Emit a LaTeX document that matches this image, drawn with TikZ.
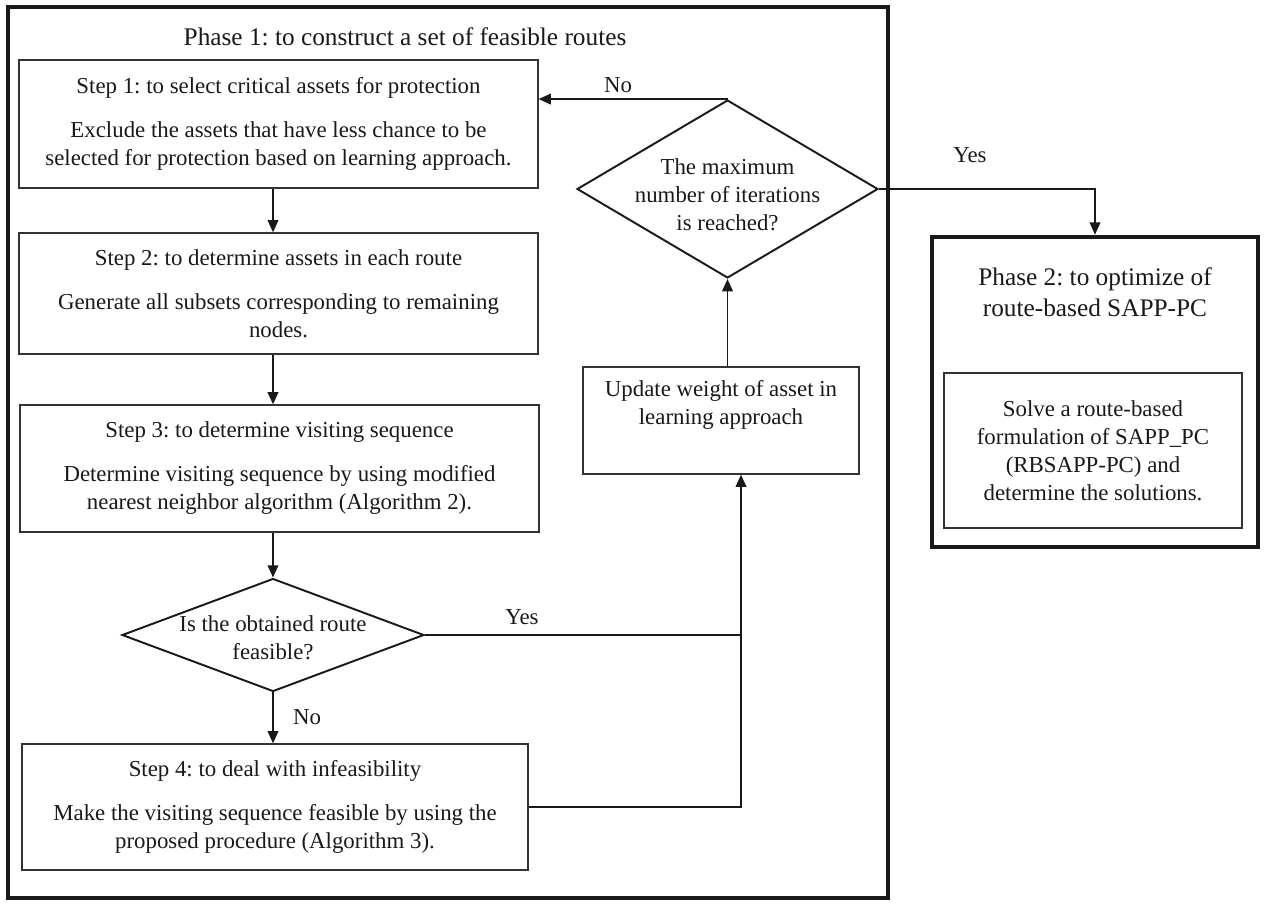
\documentclass[tikz,border=0pt]{standalone}
\usepackage{fontspec}
\setmainfont{Liberation Serif}
\usepackage{tikz}
\usetikzlibrary{shapes.geometric, arrows.meta, positioning}
\frenchspacing

\begin{document}
\begin{tikzpicture}[
  x=0.02cm, y=-0.02cm,
  every node/.style={font=\fontsize{13}{16}\selectfont, text=black!90},
  stepbox/.style={rectangle, draw=black!80, line width=0.7pt, fill=white,
    minimum width=#1, align=center, inner sep=0pt},
  bigbox/.style={rectangle, draw=black!90, line width=2.6pt, inner sep=0pt},
  decision/.style={diamond, draw=black!90, line width=1.1pt, inner sep=0pt},
  phasetitle/.style={align=center, font=\fontsize{14.4}{17.5}\selectfont},
  lbl/.style={inner sep=1pt},
  line/.style={draw=black!90, line width=1.1pt},
  arr/.style={line, -{Triangle[length=7pt, width=6pt]}}
]
\useasboundingbox (0,0) rectangle (1264,904);

% ===== PHASE 1: FEASIBLE ROUTES =====
\node[bigbox, minimum width=17.6cm, minimum height=17.82cm] (ph1) at (448,452.5) {};
\node[phasetitle] (ph1t) at (405,37) {Phase 1: to construct a set of feasible routes};

\node[stepbox=10.38cm, minimum height=2.56cm] (s1) at (278.5,124)
  {Step 1: to select critical assets for protection\\[9pt]
   Exclude the assets that have less chance to be\\
   selected for protection based on learning approach.};
\node[stepbox=10.38cm, minimum height=2.42cm] (s2) at (278.5,293.5)
  {Step 2: to determine assets in each route\\[9pt]
   Generate all subsets corresponding to remaining\\
   nodes.};
\node[stepbox=10.38cm, minimum height=2.54cm] (s3) at (279.5,468.5)
  {Step 3: to determine visiting sequence\\[9pt]
   Determine visiting sequence by using modified\\
   nearest neighbor algorithm (Algorithm 2).};

\node[decision, minimum width=6.04cm, minimum height=2.26cm] (feas) at (273,635) {};
\node[align=center] (feast) at (273,638) {Is the obtained route\\feasible?};

\node[stepbox=10.12cm, minimum height=2.52cm] (s4) at (275,807)
  {Step 4: to deal with infeasibility\\[9pt]
   Make the visiting sequence feasible by using the\\
   proposed procedure (Algorithm 3).};

% ===== LEARNING LOOP =====
\node[stepbox=5.52cm, minimum height=2.14cm] (upd) at (721,420.5)
  {Update weight of asset in\\learning approach\\\strut};
\node[decision, minimum width=6.02cm, minimum height=3.56cm] (chk) at (727.5,189) {};
\node[align=center] (chkt) at (727.5,195) {The maximum\\number of iterations\\is reached?};
\coordinate (mj) at (741,635);

% ===== PHASE 2: OPTIMIZATION =====
\node[bigbox, minimum width=6.52cm, minimum height=6.2cm] (ph2) at (1095,392) {};
\node[phasetitle] (ph2t) at (1095,292) {Phase 2: to optimize of\\route-based SAPP-PC};
\node[stepbox=5.96cm, minimum height=3.1cm] (sol) at (1093,450.5)
  {Solve a route-based\\formulation of SAPP\_PC\\(RBSAPP-PC) and\\determine the solutions.};

% ===== CONNECTORS =====
\draw[arr] (s1.south -| feas.north) -- (s2.north -| feas.north);
\draw[arr] (s2.south -| feas.north) -- (s3.north -| feas.north);
\draw[arr] (s3.south -| feas.north) -- (feas.north);
\draw[arr] (feas.south) -- (s4.north -| feas.south);
\node[lbl] (lno2) at (307,717) {No};
\draw[line] (feas.east) -- (mj);
\node[lbl] (lyes2) at (522,617) {Yes};
\draw[arr] (s4.east) -| (mj |- upd.south);
\draw[arr] (upd.north -| chk.south) -- (chk.south);
\draw[arr] (chk.north) -- (chk.north -| s1.east);
\node[lbl] (lno1) at (618,85) {No};
\draw[arr] (chk.east) -| (ph2.north);
\node[lbl] (lyes1) at (970,155) {Yes};
\end{tikzpicture}
\end{document}
